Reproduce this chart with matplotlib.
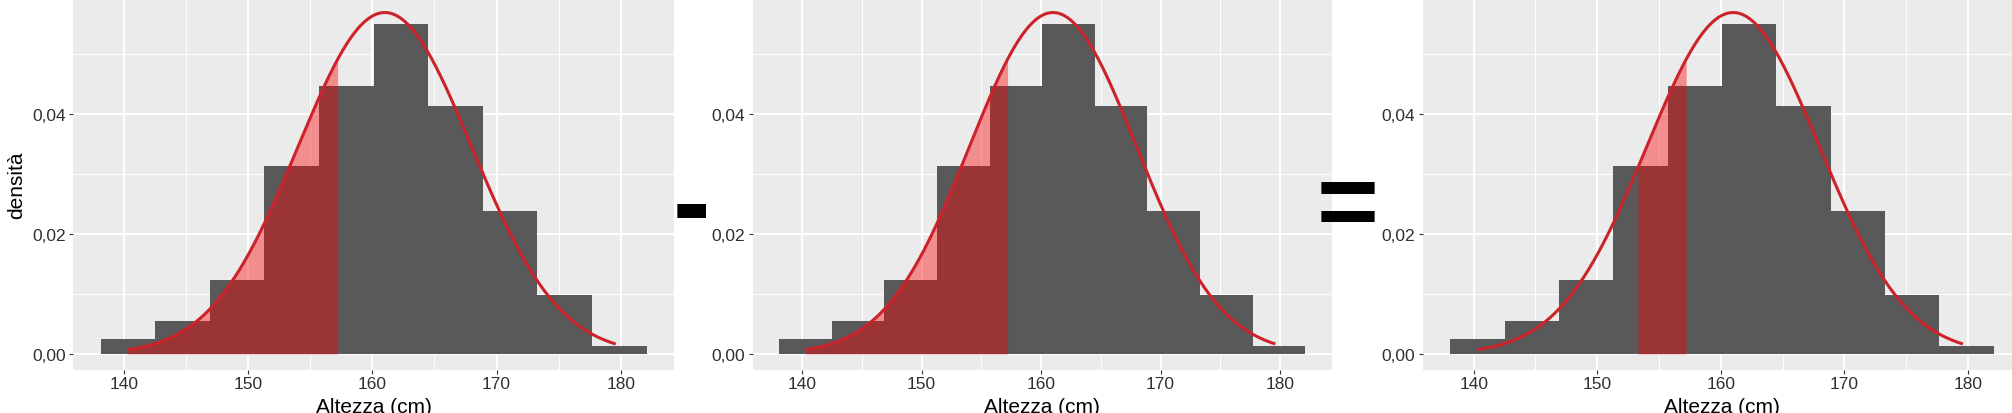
import numpy as np
import matplotlib
matplotlib.use("Agg")
import matplotlib.pyplot as plt
import matplotlib.transforms as mtransforms
from matplotlib.textpath import TextPath
from matplotlib.font_manager import FontProperties
from matplotlib.ticker import FixedLocator

# ---------------- data ----------------
bin_edges = [138.1, 142.5, 146.9, 151.3, 155.7, 160.1, 164.5, 168.9, 173.3, 177.7, 182.1]
densities = [0.00245, 0.00556, 0.0124, 0.0313, 0.0448, 0.0550, 0.0414, 0.0238, 0.0099, 0.00134]
curve_mean = 161.0          # normal density drawn over the histogram
curve_sd = 7.0
curve_start, curve_end = 140.3, 179.6
shade_ranges = [(140.3, 157.2), (140.3, 157.2), (153.3, 157.2)]
x_ticks = [140, 150, 160, 170, 180]
x_minor = [145, 155, 165, 175]
y_ticks = [0.00, 0.02, 0.04]
y_minor = [0.01, 0.03, 0.05]
y_tick_labels = ["0,00", "0,02", "0,04"]
x_label = "Altezza (cm)"
y_label = "densità"
operators = ["-", "="]

# ---------------- layout ----------------
W, H, DPI = 2012, 414, 100
plt.rcParams["font.family"] = ["Liberation Sans", "DejaVu Sans"]
fig = plt.figure(figsize=(W / DPI, H / DPI), dpi=DPI)
fig.patch.set_facecolor("white")

panel_px = [(73.3, 674.0), (753.0, 1331.5), (1423.0, 2021.0)]  # left/right in px
top_px, bottom_px = 0.0, 371.0
xlim = (135.9, 184.3)
ylim = (-0.00267, 0.05925)

BG = "#EBEBEB"
BAR = "#595959"
CURVE = "#CC2229"
FILL = "#FF0000"
TXT = "#303030"


def npdf(x):
    return np.exp(-0.5 * ((x - curve_mean) / curve_sd) ** 2) / (curve_sd * np.sqrt(2 * np.pi))


edges = np.array(bin_edges)
widths = np.diff(edges)

for i, (l, r) in enumerate(panel_px):
    ax = fig.add_axes([l / W, (H - bottom_px) / H, (r - l) / W, (bottom_px - top_px) / H])
    ax.set_facecolor(BG)
    for s in ax.spines.values():
        s.set_visible(False)
    ax.set_xlim(*xlim)
    ax.set_ylim(*ylim)

    ax.xaxis.set_major_locator(FixedLocator(x_ticks))
    ax.xaxis.set_minor_locator(FixedLocator(x_minor))
    ax.yaxis.set_major_locator(FixedLocator(y_ticks))
    ax.yaxis.set_minor_locator(FixedLocator(y_minor))
    ax.set_yticklabels(y_tick_labels)
    ax.set_xticklabels([str(t) for t in x_ticks])
    ax.set_axisbelow(True)
    ax.grid(which="major", color="white", linewidth=1.5)
    ax.grid(which="minor", color="white", linewidth=0.75)
    ax.tick_params(which="major", length=3.0, width=0.8, color="#333333",
                   labelsize=12.5, labelcolor=TXT, pad=2.5)
    ax.tick_params(axis="x", which="major", pad=1.5)
    ax.tick_params(which="minor", length=0)

    # histogram
    ax.bar(edges[:-1], densities, width=widths, align="edge", color=BAR,
           linewidth=0, zorder=2)

    # shaded area under the curve
    s0, s1 = shade_ranges[i]
    xs = np.linspace(s0, s1, 300)
    ax.fill_between(xs, 0, npdf(xs), color=FILL, alpha=0.4, linewidth=0, zorder=3)

    # normal curve
    xc = np.linspace(curve_start, curve_end, 500)
    ax.plot(xc, npdf(xc), color=CURVE, linewidth=2.2, solid_capstyle="butt", zorder=4)

    # x label (partly cut by the bottom edge, as in the reference)
    ax.set_xlabel(x_label, fontsize=15, color="black", va="baseline")
    ax.xaxis.set_label_coords(0.5, (H - 413.5) / H,
                              transform=mtransforms.blended_transform_factory(ax.transAxes, fig.transFigure))
    if i == 0:
        ax.set_ylabel(y_label, fontsize=15, color="black", va="center")
        ax.yaxis.set_label_coords(16.3 / W, 0.5,
                                  transform=mtransforms.blended_transform_factory(fig.transFigure, ax.transAxes))


# ---------------- operator signs as text, sized to their ink box ----------------
def place_symbol(s, x0, x1, y0, y1, family="Liberation Sans", weight="bold"):
    fp = FontProperties(family=family, weight=weight)
    tp = TextPath((0, 0), s, size=100, prop=fp)
    ext = tp.get_extents()
    w = ext.x1 - ext.x0
    fs = 100.0 * (x1 - x0) / w * 72.0 / DPI
    scale_px = fs / 100.0 * DPI / 72.0
    ox = x0 - ext.x0 * scale_px
    ink_cy = (ext.y0 + ext.y1) / 2.0 * scale_px
    oy = (H - (y0 + y1) / 2.0) - ink_cy
    fp2 = fp.copy()
    fp2.set_size(fs)
    fig.text(ox / W, oy / H, s, fontproperties=fp2, ha="left", va="baseline",
             color="black", zorder=10)


place_symbol(operators[0], 676.7, 705.3, 206.7, 216.0)
place_symbol(operators[1], 1320.7, 1374.0, 184.3, 219.0)

fig.savefig("out.png", dpi=DPI, facecolor="white")
